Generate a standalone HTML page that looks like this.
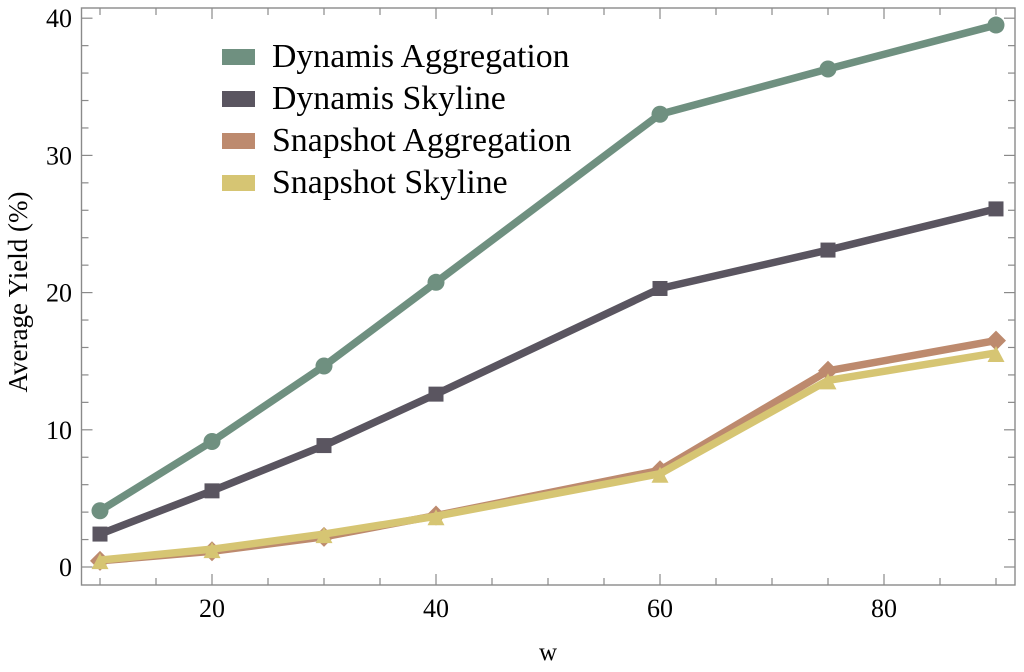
<!DOCTYPE html>
<html>
<head>
<meta charset="utf-8">
<style>
html,body{margin:0;padding:0;background:#fff;width:1024px;height:672px;overflow:hidden}
svg{display:block;font-family:"Liberation Serif",serif;fill:#000}
</style>
</head>
<body>
<svg id="chart" width="1024" height="672" viewBox="0 0 1024 672" xmlns="http://www.w3.org/2000/svg"></svg>
<script>
const windowSizes = [10, 20, 30, 40, 60, 75, 90];
const dynamisAggregation = [4.1, 9.15, 14.65, 20.75, 33.0, 36.3, 39.5];
const dynamisSkyline = [2.4, 5.55, 8.85, 12.6, 20.3, 23.1, 26.1];
const snapshotAggregation = [0.45, 1.15, 2.2, 3.75, 7.05, 14.3, 16.5];
const snapshotSkyline = [0.5, 1.3, 2.4, 3.7, 6.8, 13.6, 15.6];
const xMajorTicks = [20, 40, 60, 80];
const xMinorTicks = [10, 15, 25, 30, 35, 45, 50, 55, 65, 70, 75, 85, 90];
const yMajorTicks = [0, 10, 20, 30, 40];
const yMinorTicks = [2, 4, 6, 8, 12, 14, 16, 18, 22, 24, 26, 28, 32, 34, 36, 38];
const seriesNames = ['Dynamis Aggregation', 'Dynamis Skyline', 'Snapshot Aggregation', 'Snapshot Skyline'];
const seriesValues = [dynamisAggregation, dynamisSkyline, snapshotAggregation, snapshotSkyline];
const seriesColors = ['#6f9080', '#5a5560', '#bd8a6e', '#d6c573'];
const seriesMarkers = ['circle', 'square', 'diamond', 'triangle'];

const NS = 'http://www.w3.org/2000/svg';
const svg = document.getElementById('chart');
const frame = {left: 81.5, right: 1015, top: 8, bottom: 585};
const axisColor = '#8a8a8a';
function xScale(v) { return 100 + (v - 10) * 11.2; }
function yScale(v) { return 567 - v * 13.72; }
function make(tag, attrs, parent) {
  const el = document.createElementNS(NS, tag);
  for (const k in attrs) el.setAttribute(k, attrs[k]);
  (parent || svg).appendChild(el);
  return el;
}
function tickLine(x1, y1, x2, y2, parent) {
  return make('line', {x1: x1, y1: y1, x2: x2, y2: y2, stroke: axisColor, 'stroke-width': 1.2}, parent);
}

const axes = make('g', {});


const border = make('rect', {x: frame.left, y: frame.top, width: frame.right - frame.left, height: frame.bottom - frame.top, fill: 'none', stroke: axisColor, 'stroke-width': 1.4}, axes);



xMajorTicks.forEach(function (t) {
  const x = xScale(t);
  tickLine(x, frame.bottom, x, frame.bottom - 11, axes);
  tickLine(x, frame.top, x, frame.top + 11, axes);
  const label = make('text', {x: x, y: 617, 'text-anchor': 'middle', 'font-size': 26}, axes);
  
  
  label.textContent = t;
});
xMinorTicks.forEach(function (t) {
  const x = xScale(t);
  tickLine(x, frame.bottom, x, frame.bottom - 7, axes);
  tickLine(x, frame.top, x, frame.top + 7, axes);
});
yMajorTicks.forEach(function (t) {
  const y = yScale(t);
  tickLine(frame.left, y, frame.left + 11, y, axes);
  tickLine(frame.right, y, frame.right - 11, y, axes);
  const label = make('text', {x: 72, y: y + 9, 'text-anchor': 'end', 'font-size': 26}, axes);
  
  
  label.textContent = t;
});
yMinorTicks.forEach(function (t) {
  const y = yScale(t);
  tickLine(frame.left, y, frame.left + 7, y, axes);
  tickLine(frame.right, y, frame.right - 7, y, axes);
});

const xTitle = make('text', {x: 548, y: 660, 'text-anchor': 'middle', 'font-size': 25});


xTitle.textContent = 'w';
const yTitle = make('text', {transform: 'translate(27 292) rotate(-90)', 'text-anchor': 'middle', 'font-size': 27});


yTitle.textContent = 'Average Yield (%)';

function drawMarker(kind, cx, cy, color, parent) {
  if (kind === 'circle') return make('circle', {cx: cx, cy: cy, r: 8.5, fill: color}, parent);
  if (kind === 'square') return make('rect', {x: cx - 7.5, y: cy - 7.5, width: 15, height: 15, fill: color}, parent);
  if (kind === 'diamond') return make('polygon', {points: [cx, cy - 10, cx + 10, cy, cx, cy + 10, cx - 10, cy].join(','), fill: color}, parent);
  return make('polygon', {points: [cx, cy - 7, cx + 8.5, cy + 9, cx - 8.5, cy + 9].join(','), fill: color}, parent);
}

seriesValues.forEach(function (values, s) {
  const g = make('g', {});
  
  
  const pts = values.map(function (v, i) { return xScale(windowSizes[i]) + ',' + yScale(v); }).join(' ');
  const line = make('polyline', {points: pts, fill: 'none', stroke: seriesColors[s], 'stroke-width': 7.5, 'stroke-linejoin': 'round'}, g);
  
  
  values.forEach(function (v, i) {
    const m = drawMarker(seriesMarkers[s], xScale(windowSizes[i]), yScale(v), seriesColors[s], g);
    
    
  });
});

const legend = make('g', {});


seriesNames.forEach(function (name, s) {
  const cy = 57 + s * 42;
  const entry = make('g', {}, legend);
  
  
  make('rect', {x: 222, y: cy - 8, width: 33, height: 16, fill: seriesColors[s]}, entry);
  const label = make('text', {x: 272, y: cy + 10, 'font-size': 33.8}, entry);
  label.textContent = name;
});
</script>
</body>
</html>
